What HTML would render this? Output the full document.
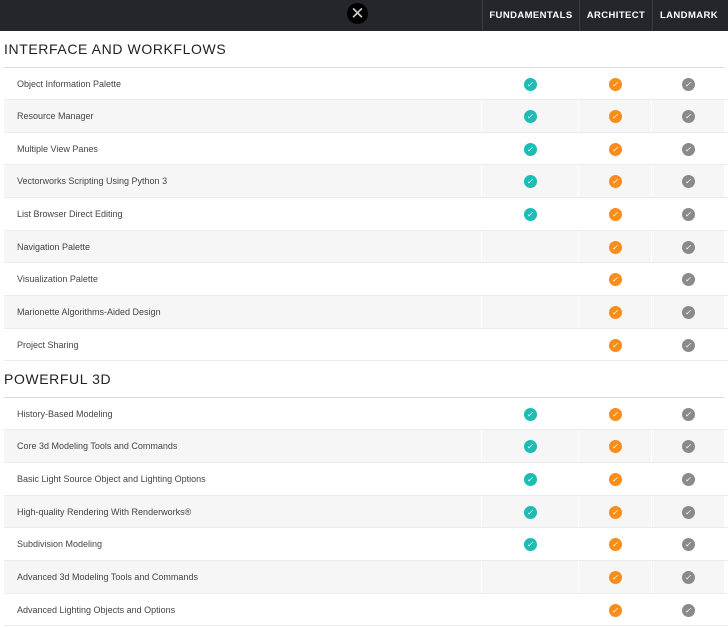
<!DOCTYPE html><html><head><style>
body{margin:0;width:728px;height:626px;overflow:hidden;background:#fff;font-family:"Liberation Sans",sans-serif}
.hd{height:31px;background:#23262b;display:flex;position:relative}
.hd div{box-sizing:border-box;color:#fff;font-weight:bold;font-size:9.5px;letter-spacing:.4px;text-align:center;line-height:31px;border-left:1px solid #3a3d42}
.x{position:absolute;left:347px;top:3px;width:21px;height:21px;border-radius:50%;background:#000;color:#ccc;font-size:17px;line-height:21px;text-align:center}
.sec{height:35.5px;margin-left:4px;width:720px;border-bottom:1px solid #dcdcdc;font-size:14px;letter-spacing:.6px;color:#222;line-height:37px}
.r{display:flex;height:31.65px;margin-left:4px;border-bottom:1px solid #ececec}
.r.s div{background:#f6f6f6}
.r div{box-sizing:border-box;height:31.65px;position:relative}
.l{width:477px;font-size:9px;color:#444;line-height:33px;padding-left:13px}
.f{width:96px;margin-left:1px}.a{width:72px;margin-left:1px}.d{width:72px;margin-left:1px}
.c{position:absolute;top:10px;left:50%;margin-left:-6.5px;width:13px;height:13px;border-radius:50%;color:#fff;font-size:8px;line-height:13px;text-align:center}
.t{background:#1cbdb5}.o{background:#f98d1a}.g{background:#8a8a8a}
</style></head><body>
<div class="hd"><div style="width:482px;border:0"></div><div style="width:97px">FUNDAMENTALS</div><div style="width:73px">ARCHITECT</div><div style="width:73px">LANDMARK</div><span class="x">✕</span></div>
<div class="sec">INTERFACE AND WORKFLOWS</div>
<div class="r"><div class="l">Object Information Palette</div><div class="f"><i class="c t">✓</i></div><div class="a"><i class="c o">✓</i></div><div class="d"><i class="c g">✓</i></div></div>
<div class="r s"><div class="l">Resource Manager</div><div class="f"><i class="c t">✓</i></div><div class="a"><i class="c o">✓</i></div><div class="d"><i class="c g">✓</i></div></div>
<div class="r"><div class="l">Multiple View Panes</div><div class="f"><i class="c t">✓</i></div><div class="a"><i class="c o">✓</i></div><div class="d"><i class="c g">✓</i></div></div>
<div class="r s"><div class="l">Vectorworks Scripting Using Python 3</div><div class="f"><i class="c t">✓</i></div><div class="a"><i class="c o">✓</i></div><div class="d"><i class="c g">✓</i></div></div>
<div class="r"><div class="l">List Browser Direct Editing</div><div class="f"><i class="c t">✓</i></div><div class="a"><i class="c o">✓</i></div><div class="d"><i class="c g">✓</i></div></div>
<div class="r s"><div class="l">Navigation Palette</div><div class="f"></div><div class="a"><i class="c o">✓</i></div><div class="d"><i class="c g">✓</i></div></div>
<div class="r"><div class="l">Visualization Palette</div><div class="f"></div><div class="a"><i class="c o">✓</i></div><div class="d"><i class="c g">✓</i></div></div>
<div class="r s"><div class="l">Marionette Algorithms-Aided Design</div><div class="f"></div><div class="a"><i class="c o">✓</i></div><div class="d"><i class="c g">✓</i></div></div>
<div class="r"><div class="l">Project Sharing</div><div class="f"></div><div class="a"><i class="c o">✓</i></div><div class="d"><i class="c g">✓</i></div></div>
<div class="sec">POWERFUL 3D</div>
<div class="r"><div class="l">History-Based Modeling</div><div class="f"><i class="c t">✓</i></div><div class="a"><i class="c o">✓</i></div><div class="d"><i class="c g">✓</i></div></div>
<div class="r s"><div class="l">Core 3d Modeling Tools and Commands</div><div class="f"><i class="c t">✓</i></div><div class="a"><i class="c o">✓</i></div><div class="d"><i class="c g">✓</i></div></div>
<div class="r"><div class="l">Basic Light Source Object and Lighting Options</div><div class="f"><i class="c t">✓</i></div><div class="a"><i class="c o">✓</i></div><div class="d"><i class="c g">✓</i></div></div>
<div class="r s"><div class="l">High-quality Rendering With Renderworks®</div><div class="f"><i class="c t">✓</i></div><div class="a"><i class="c o">✓</i></div><div class="d"><i class="c g">✓</i></div></div>
<div class="r"><div class="l">Subdivision Modeling</div><div class="f"><i class="c t">✓</i></div><div class="a"><i class="c o">✓</i></div><div class="d"><i class="c g">✓</i></div></div>
<div class="r s"><div class="l">Advanced 3d Modeling Tools and Commands</div><div class="f"></div><div class="a"><i class="c o">✓</i></div><div class="d"><i class="c g">✓</i></div></div>
<div class="r"><div class="l">Advanced Lighting Objects and Options</div><div class="f"></div><div class="a"><i class="c o">✓</i></div><div class="d"><i class="c g">✓</i></div></div>
</body></html>
